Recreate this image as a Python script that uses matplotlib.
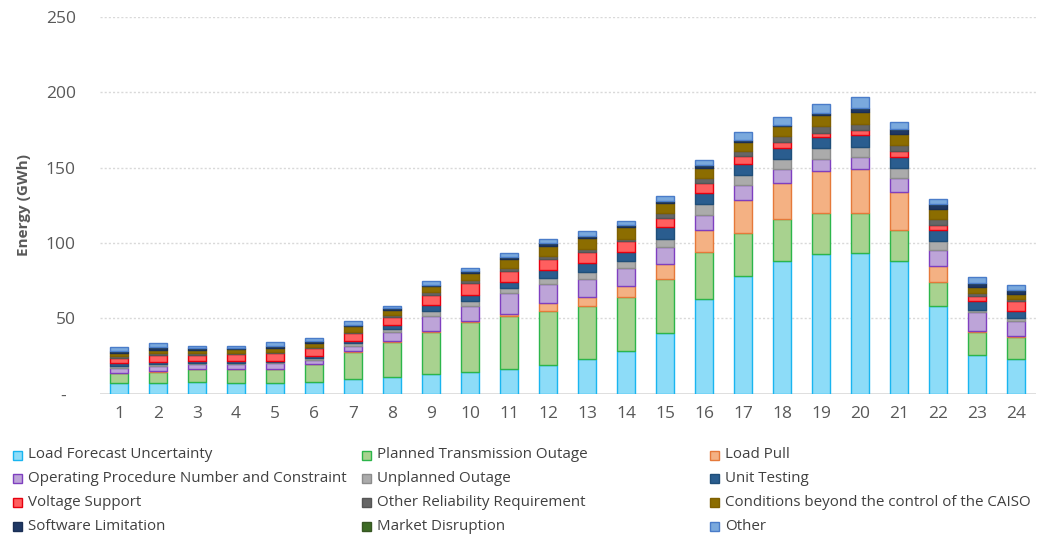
import matplotlib
matplotlib.use("Agg")
import matplotlib.pyplot as plt
from matplotlib.patches import Rectangle
import numpy as np

plt.rcParams['font.family'] = ['Open Sans', 'DejaVu Sans']

hours = [str(h) for h in range(1, 25)]

series_names = [
    "Load Forecast Uncertainty", "Planned Transmission Outage", "Load Pull",
    "Operating Procedure Number and Constraint", "Unplanned Outage", "Unit Testing",
    "Voltage Support", "Other Reliability Requirement",
    "Conditions beyond the control of the CAISO",
    "Software Limitation", "Market Disruption", "Other",
]

load_forecast_uncertainty = [6.7, 6.7, 7.8, 7.3, 7.3, 7.8, 9.6, 11.1, 12.7, 14.4, 16.2, 18.9,
                             22.7, 28.2, 40.4, 62.7, 78.2, 88.2, 92.9, 93.3, 88.2, 57.8, 25.6, 22.7]
planned_transmission_outage = [6.6, 7.7, 8.2, 8.7, 9.1, 11.5, 18.2, 23.3, 28.4, 32.9, 35.4, 36.2,
                               35.5, 35.8, 35.6, 31.1, 28.5, 27.4, 27.1, 26.7, 20.2, 16.2, 15.1, 15.1]
load_pull = [0.3, 0.3, 0.2, 0.2, 0.2, 0.2, 0.3, 0.4, 0.5, 0.7, 1.3, 5.3,
             6.2, 7.1, 10.2, 14.6, 21.5, 24.4, 27.8, 28.9, 25.4, 10.4, 1.1, 0.3]
operating_procedure = [3.5, 3.5, 3.1, 3.1, 3.4, 2.7, 3.7, 6.3, 10.0, 10.4, 13.8, 12.5,
                       11.6, 12.2, 10.9, 10.3, 10.2, 8.9, 8.2, 8.4, 9.5, 11.2, 12.0, 10.3]
unplanned_outage = [1.1, 1.4, 1.1, 1.1, 1.1, 1.1, 1.5, 1.6, 3.5, 2.7, 3.1, 3.8,
                    4.9, 4.9, 5.6, 7.3, 6.5, 6.7, 6.7, 6.7, 6.7, 5.5, 1.8, 2.0]
unit_testing = [1.8, 1.5, 1.2, 1.2, 0.7, 1.6, 1.8, 2.9, 3.8, 4.5, 4.4, 5.1,
                5.8, 5.6, 8.0, 7.3, 7.3, 7.7, 7.7, 7.6, 7.1, 7.3, 6.0, 4.7]
voltage_support = [3.8, 4.5, 4.0, 4.6, 5.3, 5.1, 4.9, 5.1, 6.7, 7.7, 7.4, 7.5,
                   7.1, 7.3, 6.0, 6.7, 5.6, 3.8, 2.9, 3.5, 4.0, 3.8, 3.3, 6.0]
other_reliability = [1.1, 1.5, 1.1, 0.5, 0.7, 1.1, 1.1, 1.5, 1.5, 1.8, 1.5, 2.3,
                     2.2, 1.8, 2.9, 3.3, 3.3, 3.6, 4.0, 3.8, 3.8, 3.4, 1.8, 1.6]
conditions_beyond = [1.8, 1.8, 2.2, 2.6, 2.2, 2.7, 3.8, 3.4, 4.0, 4.9, 6.2, 6.2,
                     7.3, 7.8, 7.1, 6.7, 6.0, 6.6, 7.6, 8.2, 7.3, 6.6, 4.0, 3.5]
software_limitation = [1.5, 2.2, 1.1, 1.1, 1.6, 1.1, 0.7, 1.1, 1.1, 1.1, 1.4, 2.2,
                       1.1, 0.9, 1.3, 1.6, 1.3, 0.9, 1.3, 2.2, 3.4, 3.4, 2.6, 2.2]
market_disruption = [0.1, 0.1, 0.1, 0.1, 0.1, 0.1, 0.1, 0.1, 0.1, 0.1, 0.1, 0.1,
                     0.1, 0.1, 0.1, 0.1, 0.1, 0.1, 0.1, 0.1, 0.1, 0.1, 0.1, 0.1]
other = [2.4, 2.6, 1.7, 1.3, 2.3, 1.7, 2.7, 1.4, 2.1, 2.1, 2.5, 2.8,
         3.3, 2.8, 3.0, 3.2, 5.3, 5.0, 5.9, 7.3, 4.3, 3.6, 3.7, 3.7]

series_values = [load_forecast_uncertainty, planned_transmission_outage, load_pull,
                 operating_procedure, unplanned_outage, unit_testing, voltage_support,
                 other_reliability, conditions_beyond, software_limitation,
                 market_disruption, other]

fills = ['#8ddcf8', '#a8d28f', '#f4b183', '#bda4d8', '#ababab', '#2a5d8f',
         '#ff5f5f', '#666666', '#8c6d00', '#1f3864', '#3d6b24', '#7aa9dd']
edges = ['#19b5f0', '#2cb54a', '#e5793a', '#7f3fbf', '#8c8c8c', '#1f4e79',
         '#e6000f', '#555555', '#7f6000', '#1a2f55', '#375623', '#4a7cc9']

W, H = 1039, 535
fig = plt.figure(figsize=(W / 100, H / 100), dpi=100)
ax = fig.add_axes([99.5 / W, 1 - 393.5 / H, (1035.5 - 99.5) / W, (393.5 - 17) / H])

x = np.arange(1, 25)
bottom = np.zeros(24)
for name, vals, fc, ec in zip(series_names, series_values, fills, edges):
    v = np.array(vals)
    ax.bar(x, v, width=0.44, bottom=bottom, color=fc, edgecolor=ec,
           linewidth=1.0, label=name, zorder=3)
    bottom += v

ax.set_xlim(0.5, 24.5)
ax.set_ylim(0, 250)
yt = [0, 50, 100, 150, 200, 250]
ax.set_yticks(yt)
ax.set_yticklabels(['-  '] + [str(t) for t in yt[1:]])
ax.set_xticks(x)
ax.set_xticklabels(hours)
for t in yt[1:]:
    ax.axhline(t, color='#d9d9d9', linewidth=1.0, linestyle=(0, (1.5, 1.5)), zorder=1)
ax.axhline(0, color='#d9d9d9', linewidth=1.2, zorder=2)
for s in ax.spines.values():
    s.set_visible(False)
ax.tick_params(axis='both', length=0, colors='#595959', labelsize=12.5)
ax.tick_params(axis='y', pad=17)
ax.tick_params(axis='x', pad=9)
ax.set_ylabel('Energy (GWh)', fontsize=11, fontweight='bold', color='#595959', labelpad=11)

# legend, row-major order in three columns
col_x = [13, 362, 710]
row_y = [455, 478.5, 502, 526.5]
for i, (name, fc, ec) in enumerate(zip(series_names, fills, edges)):
    r, c = divmod(i, 3)
    xm = col_x[c]
    ym = row_y[r]
    fig.add_artist(Rectangle((xm / W, 1 - (ym + 4.5) / H), 9 / W, 9 / H,
                             transform=fig.transFigure, facecolor=fc, edgecolor=ec,
                             linewidth=1.0))
    fig.text((xm + 15) / W, 1 - ym / H, name, fontsize=10.9, color='#404040',
             va='center', ha='left')

fig.savefig('out.png', dpi=100)
